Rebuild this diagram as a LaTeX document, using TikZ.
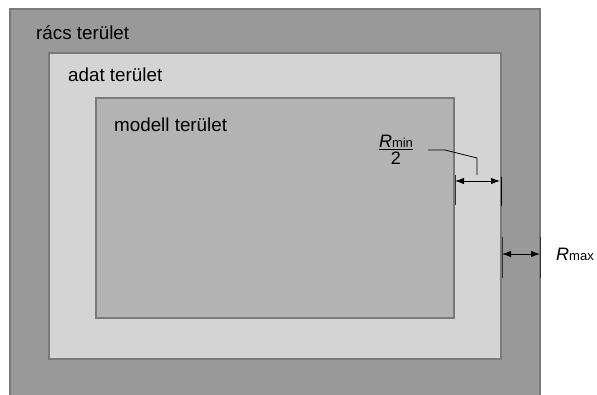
\documentclass[tikz,border=0pt]{standalone}
\usepackage{fontspec}
\setmainfont{Liberation Sans}
\usetikzlibrary{arrows.meta}
\definecolor{gridgray}{HTML}{999999}
\definecolor{datagray}{HTML}{D4D4D4}
\definecolor{modelgray}{HTML}{B3B3B3}
\definecolor{edgegray}{HTML}{7A7A7A}
\tikzset{
  area/.style={draw=edgegray, line width=1.1pt},
  arealabel/.style={anchor=west, inner sep=0pt, font=\fontsize{18.8}{22}\selectfont},
  dimline/.style={line width=0.9pt, {Latex[length=9pt,width=6.5pt]}-{Latex[length=9pt,width=6.5pt]}},
  tick/.style={line width=1pt, black!80},
  leader/.style={line width=0.8pt},
}
\newcommand{\Rsym}[1]{{\fontsize{18}{20}\selectfont\itshape R}{\fontsize{13}{15}\selectfont #1}}
\begin{document}
\begin{tikzpicture}[x=1pt, y=-1pt]
\useasboundingbox (0,0) rectangle (597,394);
% nested areas
\filldraw[area, fill=gridgray] (10,9) rectangle (540,396);
\filldraw[area, fill=datagray] (49,53) rectangle (501,359);
\filldraw[area, fill=modelgray] (96,98) rectangle (454,318);
\node[arealabel] (racs) at (36,33) {rács terület};
\node[arealabel] (adat) at (68,75) {adat terület};
\node[arealabel] (modell) at (114,125) {modell terület};
% R_min / 2 dimension
\coordinate (a1) at (455,181);
\coordinate (a2) at (500,181);
\draw[tick] (455,175) -- (455,205);
\draw[tick, black] (501,177) -- (501,206);
\draw[dimline] (a1) -- (a2);
\node[anchor=south, inner sep=0pt] (rminnum) at (396,148) {\Rsym{min}};
\draw[line width=0.8pt] (rminnum.south west) ++(0,1) coordinate (barl) -- (barl -| rminnum.south east);
\node[anchor=north, inner sep=0pt, font=\fontsize{18}{20}\selectfont] (rminden) at (396,152) {2};
\coordinate (l1) at (428,150);
\coordinate (l2) at (445,150);
\coordinate (l3) at (477,158);
\coordinate (l4) at (477,175);
\draw[leader] (l1) -- (l2) -- (l3) -- (l4);
% R_max dimension
\coordinate (b1) at (502,254);
\coordinate (b2) at (540,254);
\draw[tick] (502,237) -- (502,278);
\draw[tick] (540,237) -- (540,278);
\draw[dimline] (b1) -- (b2);
\node[anchor=west, inner sep=0pt] (rmax) at (556,254) {\Rsym{max}};
\end{tikzpicture}
\end{document}
